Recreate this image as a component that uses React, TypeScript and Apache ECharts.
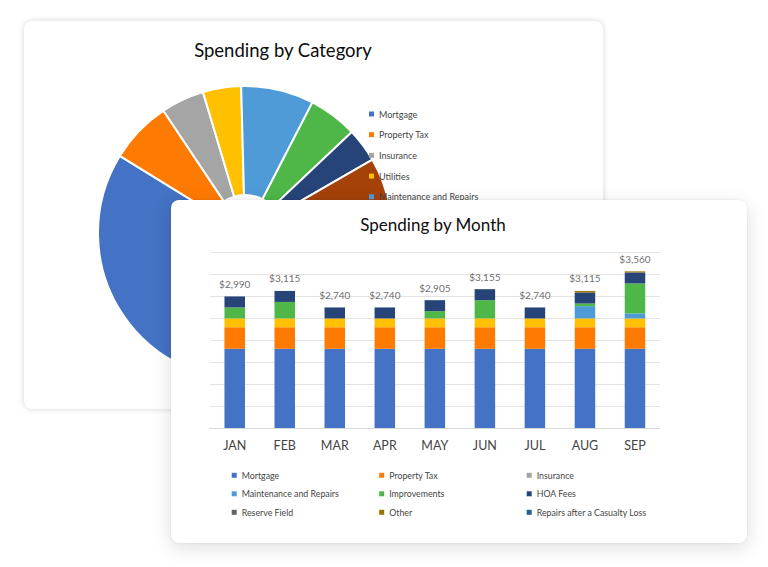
import React, { useEffect, useRef } from 'react';
import * as echarts from 'echarts';

// ---- Spending by Month (stacked bars) ----
const months = ['JAN', 'FEB', 'MAR', 'APR', 'MAY', 'JUN', 'JUL', 'AUG', 'SEP'];
const mortgage = [1800, 1800, 1800, 1800, 1800, 1800, 1800, 1800, 1800];
const propertyTax = [490, 490, 490, 490, 490, 490, 490, 490, 490];
const insurance = [0, 0, 0, 0, 0, 0, 0, 0, 0];
const utilities = [200, 200, 200, 200, 200, 200, 200, 200, 200];
const maintenance = [0, 0, 0, 0, 0, 0, 0, 280, 115];
const improvements = [250, 375, 0, 0, 165, 415, 0, 60, 680];
const hoaFees = [250, 250, 250, 250, 250, 250, 250, 250, 250];
const reserveField = [0, 0, 0, 0, 0, 0, 0, 0, 0];
const other = [0, 0, 0, 0, 0, 0, 0, 35, 25];
const casualtyRepairs = [0, 0, 0, 0, 0, 0, 0, 0, 0];
const monthTotals = [2990, 3115, 2740, 2740, 2905, 3155, 2740, 3115, 3560];

const barLegendNames = [
  'Mortgage', 'Property Tax', 'Insurance',
  'Maintenance and Repairs', 'Improvements', 'HOA Fees',
  'Reserve Field', 'Other', 'Repairs after a Casualty Loss',
];

// ---- Spending by Category (pie) ----
const categoryNames = [
  'Mortgage', 'Property Tax', 'Insurance', 'Utilities', 'Maintenance and Repairs',
  'Improvements', 'HOA Fees', 'Reserve Field', 'Other', 'Repairs after a Casualty Loss',
];
const categoryValues = [13000, 2470, 1710, 1510, 2880, 1930, 1350, 4000, 3500, 3650];
const pieLegendNames = ['Mortgage', 'Property Tax', 'Insurance', 'Utilities', 'Maintenance and Repairs'];

const barColors: Record<string, string> = {
  'Mortgage': '#4472C4',
  'Property Tax': '#FF7A00',
  'Insurance': '#A5A5A5',
  'Utilities': '#FFC000',
  'Maintenance and Repairs': '#4E9BD8',
  'Improvements': '#4EB748',
  'HOA Fees': '#264478',
  'Reserve Field': '#636363',
  'Other': '#997300',
  'Repairs after a Casualty Loss': '#255E91',
};
const pieColors = [
  '#4472C4', '#FF7A00', '#A5A5A5', '#FFC000', '#4E9BD8',
  '#4EB748', '#264478', '#A5420A', '#636363', '#997300',
];

const FONT = 'Lato, "Open Sans", sans-serif';
const TEXT = '#454545';

export default function App() {
  const backRef = useRef<HTMLDivElement>(null);
  const frontRef = useRef<HTMLDivElement>(null);

  useEffect(() => {
    const pie = echarts.init(backRef.current!, null, { renderer: 'svg' });
    const bar = echarts.init(frontRef.current!, null, { renderer: 'svg' });

    pie.setOption({
      animation: false,
      title: {
        text: 'Spending by Category',
        left: 259,
        top: 18,
        textAlign: 'center',
        padding: 0,
        textStyle: { fontFamily: FONT, fontSize: 18.5, fontWeight: 'normal', color: '#0d0d0d', lineHeight: 22 },
      },
      legend: {
        orient: 'vertical',
        left: 345,
        top: 87,
        padding: 0,
        itemWidth: 5,
        itemHeight: 5,
        itemGap: 8.7,
        icon: 'rect',
        selectedMode: false,
        itemStyle: { borderWidth: 0 },
        data: pieLegendNames,
        textStyle: { fontFamily: FONT, fontSize: 9, color: TEXT, lineHeight: 12 },
      },
      series: [
        {
          type: 'pie',
          center: [221, 212],
          radius: [38, 147],
          startAngle: 278.4,
          clockwise: true,
          silent: true,
          label: { show: false },
          labelLine: { show: false },
          emphasis: { disabled: true },
          itemStyle: { borderColor: '#ffffff', borderWidth: 2 },
          data: categoryNames.map((n, i) => ({
            name: n,
            value: categoryValues[i],
            itemStyle: { color: pieColors[i] },
          })),
        },
      ],
    });

    const stackSeries: [string, number[]][] = [
      ['Mortgage', mortgage],
      ['Property Tax', propertyTax],
      ['Insurance', insurance],
      ['Utilities', utilities],
      ['Maintenance and Repairs', maintenance],
      ['Improvements', improvements],
      ['HOA Fees', hoaFees],
      ['Reserve Field', reserveField],
      ['Other', other],
      ['Repairs after a Casualty Loss', casualtyRepairs],
    ];

    bar.setOption({
      animation: false,
      title: {
        text: 'Spending by Month',
        left: 262,
        top: 14,
        textAlign: 'center',
        padding: 0,
        textStyle: { fontFamily: FONT, fontSize: 17, fontWeight: 'normal', color: '#0d0d0d', lineHeight: 20 },
      },
      grid: { left: 38.7, right: 87, top: 52, bottom: 115, containLabel: false },
      xAxis: {
        type: 'category',
        data: months,
        axisTick: { show: false },
        axisLine: { lineStyle: { color: '#D9D9D9' } },
        axisLabel: { margin: 9.5, fontFamily: FONT, fontSize: 12.5, color: TEXT, lineHeight: 15 },
      },
      yAxis: {
        type: 'value',
        min: 0,
        max: 4000,
        interval: 500,
        axisLabel: { show: false },
        axisLine: { show: false },
        axisTick: { show: false },
        splitLine: { lineStyle: { color: '#E3E3E3' } },
      },
      legend: {
        left: 60.7,
        top: 269.3,
        width: 440,
        padding: 0,
        itemWidth: 5,
        itemHeight: 5,
        itemGap: 6.5,
        icon: 'rect',
        selectedMode: false,
        itemStyle: { borderWidth: 0 },
        data: barLegendNames,
        textStyle: { fontFamily: FONT, fontSize: 8.8, color: TEXT, lineHeight: 12, width: 131 },
      },
      series: [
        ...stackSeries.map(([name, values]) => ({
          type: 'bar',
          name,
          stack: 'total',
          barWidth: '41%',
          silent: true,
          emphasis: { disabled: true },
          itemStyle: { color: barColors[name] },
          data: values,
        })),
        {
          type: 'scatter',
          name: 'Total',
          data: monthTotals,
          symbolSize: 1,
          silent: true,
          z: 5,
          itemStyle: { color: 'rgba(0,0,0,0)' },
          label: {
            show: true,
            position: 'top',
            distance: 6,
            formatter: (p: any) => '$' + Number(p.value).toLocaleString('en-US'),
            fontFamily: FONT,
            fontSize: 10,
            color: TEXT,
            lineHeight: 12,
          },
        },
      ],
    });

    return () => {
      pie.dispose();
      bar.dispose();
    };
  }, []);

  return (
    <div style={{ position: 'absolute', left: 0, top: 0, width: 768, height: 567, background: '#ffffff', overflow: 'hidden' }}>
      <div
        style={{
          position: 'absolute', left: 24, top: 21, width: 579, height: 388,
          background: '#ffffff', borderRadius: 8,
          boxShadow: '0 0 6px rgba(0,0,0,0.16)',
        }}
      >
        <div ref={backRef} style={{ width: 579, height: 388 }} />
      </div>
      <div
        style={{
          position: 'absolute', left: 171, top: 200, width: 576, height: 343,
          background: '#ffffff', borderRadius: 8,
          boxShadow: '0 5px 20px rgba(0,0,0,0.13), 0 0 3px rgba(0,0,0,0.08)',
        }}
      >
        <div ref={frontRef} style={{ width: 576, height: 343 }} />
      </div>
    </div>
  );
}
